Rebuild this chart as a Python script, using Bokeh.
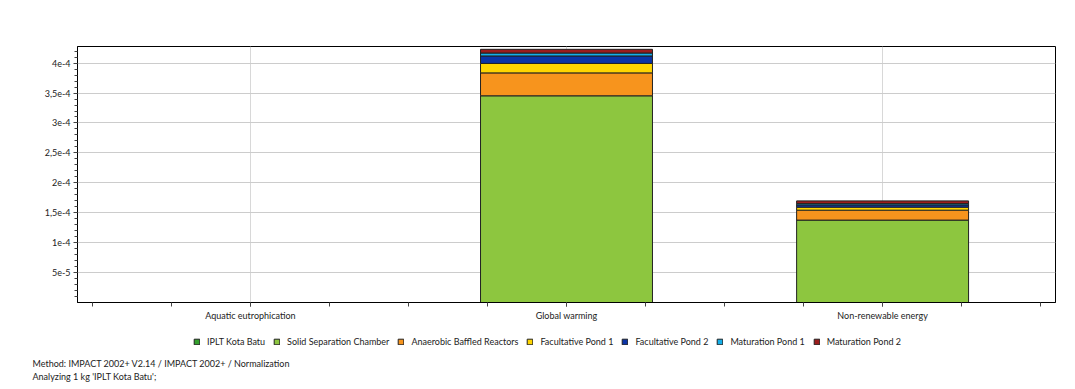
import numpy as np
from bokeh.plotting import figure
from bokeh.layouts import column
from bokeh.models import (ColumnDataSource, Range1d, FixedTicker, Legend, LegendItem, Label)
from bokeh.embed import file_html
from bokeh.resources import INLINE

# ---- data ----
categories = ["Aquatic eutrophication", "Global warming", "Non-renewable energy"]
series_names = ["IPLT Kota Batu", "Solid Separation Chamber", "Anaerobic Baffled Reactors",
                "Facultative Pond 1", "Facultative Pond 2", "Maturation Pond 1", "Maturation Pond 2"]
iplt_kota_batu = [0.0, 0.0, 0.0]
solid_separation_chamber = [0.0, 3.454e-4, 1.377e-4]
anaerobic_baffled_reactors = [0.0, 0.383e-4, 0.166e-4]
facultative_pond_1 = [0.0, 0.158e-4, 0.050e-4]
facultative_pond_2 = [0.0, 0.125e-4, 0.038e-4]
maturation_pond_1 = [0.0, 0.049e-4, 0.022e-4]
maturation_pond_2 = [0.0, 0.062e-4, 0.045e-4]
colors = ["#33a02c", "#8dc63f", "#f7941d", "#ffd500", "#0b34a6", "#14aee8", "#9b1c1c"]

y_ticks = [5e-5, 1e-4, 1.5e-4, 2e-4, 2.5e-4, 3e-4, 3.5e-4, 4e-4]
y_tick_labels = ["5e-5", "1e-4", "1,5e-4", "2e-4", "2,5e-4", "3e-4", "3,5e-4", "4e-4"]

footer = ["Method: IMPACT 2002+ V2.14 / IMPACT 2002+ / Normalization",
          "Analyzing 1 kg 'IPLT Kota Batu';"]

FONT = "Lato"
TXT = "#222222"

keys = ["s%d" % i for i in range(len(series_names))]
data = dict(x=list(range(len(categories))))
for k, vals in zip(keys, [iplt_kota_batu, solid_separation_chamber, anaerobic_baffled_reactors,
                          facultative_pond_1, facultative_pond_2, maturation_pond_1, maturation_pond_2]):
    data[k] = vals
source = ColumnDataSource(data)

# ---- main chart ----
p = figure(width=1075, height=323, output_backend="svg", toolbar_location=None,
           x_range=Range1d(-0.547, 2.547), y_range=Range1d(0, 4.278e-4),
           min_border_left=77, min_border_right=20, min_border_top=46, min_border_bottom=20)
p.background_fill_color = "white"
p.border_fill_color = "white"
p.outline_line_color = "black"
p.outline_line_width = 1

p.vbar_stack(keys, x="x", width=0.544, source=source, color=colors,
             line_color="#222222", line_width=1)

xa = p.xaxis[0]
xa.ticker = FixedTicker(ticks=list(range(len(categories))),
                        minor_ticks=list(np.arange(-0.5, 2.51, 0.25)))
xa.major_label_overrides = {i: c for i, c in enumerate(categories)}
ya = p.yaxis[0]
ya.ticker = FixedTicker(ticks=y_ticks, minor_ticks=list(np.arange(1, 43) * 1e-5))
ya.major_label_overrides = dict(zip(y_ticks, y_tick_labels))

for ax in (xa, ya):
    ax.axis_line_color = "black"
    ax.axis_line_width = 1
    ax.major_tick_line_color = "#444444"
    ax.minor_tick_line_color = "#444444"
    ax.major_tick_out = 4
    ax.major_tick_in = 0
    ax.minor_tick_out = 3
    ax.minor_tick_in = 0
    ax.major_label_text_font = FONT
    ax.major_label_text_font_size = "9px"
    ax.major_label_text_color = TXT
    ax.major_label_standoff = 3
xa.minor_tick_out = 4

p.xgrid.grid_line_color = "#d8d8d8"
p.ygrid.grid_line_color = "#cccccc"
p.xgrid.level = "underlay"
p.ygrid.level = "underlay"

# ---- bottom strip: legend + footer ----
q = figure(width=1075, height=66, output_backend="svg", toolbar_location=None,
           x_range=Range1d(0, 1075), y_range=Range1d(66, 0),
           x_axis_type=None, y_axis_type=None,
           min_border_left=0, min_border_right=0, min_border_top=0, min_border_bottom=0)
q.outline_line_color = None
q.grid.visible = False
q.background_fill_color = "white"
q.border_fill_color = "white"
for fig in (p, q):
    if hasattr(fig, "frame_align"):
        fig.frame_align = False

# legend swatches: dummy bars placed outside the visible range, only used for legend glyphs
legend_renderers = [q.vbar(x=[5000], top=[900], bottom=[800], width=1, color=c,
                           line_color="#222222", line_width=1)
                    for c in colors]
items = [LegendItem(label=n, renderers=[r]) for n, r in zip(series_names, legend_renderers)]
legend = Legend(items=items, orientation="horizontal", location=(193, 42),
                glyph_width=7, glyph_height=7, label_standoff=7, spacing=8,
                label_text_font=FONT, label_text_font_size="9px", label_text_color=TXT,
                label_height=9, padding=0, margin=0,
                border_line_alpha=0, background_fill_alpha=0)
q.add_layout(legend, "center")

for i, t in enumerate(footer):
    q.add_layout(Label(x=32, y=40 + 13 * i, text=t,
                       text_font=FONT, text_font_size="9px", text_color=TXT,
                       text_baseline="middle"))

layout = column(p, q, spacing=0)
open("out.html", "w").write(file_html(layout, INLINE))
